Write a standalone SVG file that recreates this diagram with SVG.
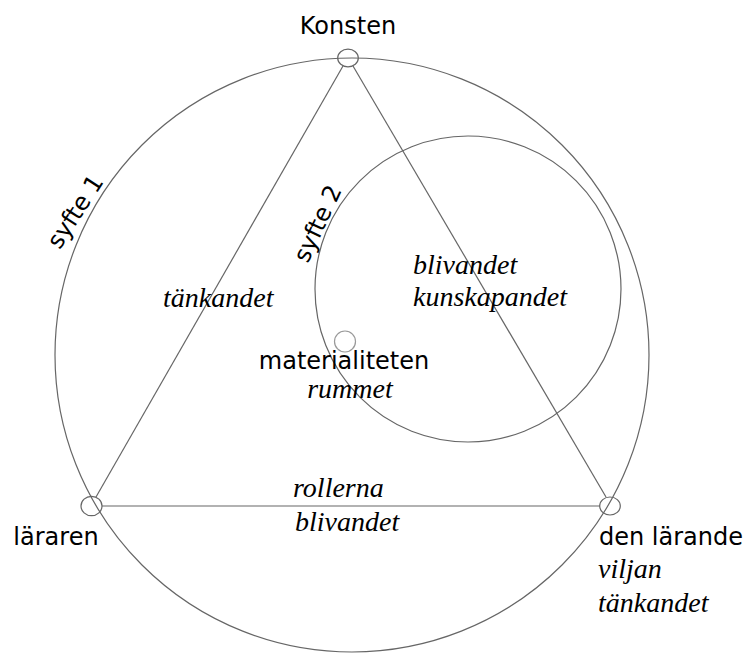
<svg xmlns="http://www.w3.org/2000/svg" width="748" height="653" viewBox="0 0 748 653">
<style>
.ln{fill:none;stroke:#666;stroke-width:1.2}
.nd{fill:none;stroke:#666;stroke-width:1.2}
.nd2{fill:none;stroke:#999;stroke-width:1.2}
.sans{font-family:"DejaVu Sans",Verdana,sans-serif;font-size:24px;fill:#000}
.it{font-family:"Liberation Serif","Times New Roman",serif;font-style:italic;font-size:28px;fill:#000}
</style>
<rect width="748" height="653" fill="#fff"/>
<g id="connectors">
<circle class="ln" cx="352" cy="355" r="297"/>
<circle class="ln" cx="468" cy="289" r="153"/>
<line class="ln" x1="343" y1="66" x2="96" y2="497"/>
<line class="ln" x1="353" y1="66" x2="606" y2="497"/>
<line class="ln" x1="102" y1="506" x2="600" y2="506"/>
</g>
<g id="konsten">
<ellipse class="nd" cx="348" cy="58" rx="10.3" ry="8.8"/>
<text class="sans" x="348" y="34" text-anchor="middle">Konsten</text>
</g>
<g id="lararen">
<ellipse class="nd" cx="91.5" cy="506" rx="10.5" ry="9.7"/>
<text class="sans" x="56" y="545" text-anchor="middle">läraren</text>
</g>
<g id="den-larande">
<ellipse class="nd" cx="610" cy="506" rx="10.3" ry="9"/>
<text class="sans" x="599" y="545">den lärande</text>
<text class="it" x="598" y="578">viljan</text>
<text class="it" x="598" y="612">tänkandet</text>
</g>
<g id="materialiteten">
<circle class="nd2" cx="345" cy="341.5" r="10.5"/>
<text class="sans" x="344" y="369" text-anchor="middle">materialiteten</text>
<text class="it" x="350" y="398" text-anchor="middle">rummet</text>
</g>
<g id="labels">
<text class="sans" x="82" y="216" text-anchor="middle" transform="rotate(-57 82 216)">syfte 1</text>
<text class="sans" x="325" y="227" text-anchor="middle" transform="rotate(-65 325 227)">syfte 2</text>
<text class="it" x="163" y="307">tänkandet</text>
<text class="it" x="413" y="274">blivandet</text>
<text class="it" x="413" y="306">kunskapandet</text>
<text class="it" x="293" y="497">rollerna</text>
<text class="it" x="295" y="531">blivandet</text>
</g>
</svg>
